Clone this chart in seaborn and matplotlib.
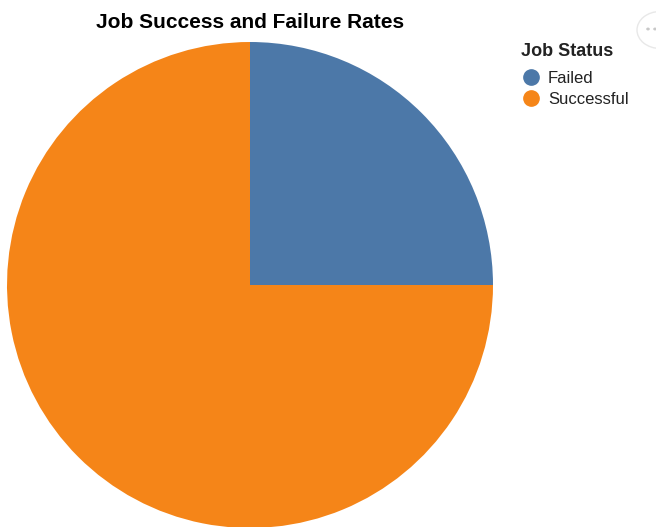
import matplotlib
matplotlib.use("Agg")
import matplotlib.pyplot as plt
import seaborn as sns
from matplotlib.lines import Line2D
from matplotlib.patches import Circle

# Data
statuses = ["Failed", "Successful"]
counts = [25, 75]
colors = ["#4c78a8", "#f58518"]

sns.set_theme(style="white")
plt.rcParams['font.family'] = ['Liberation Sans', 'DejaVu Sans']

W, H = 656, 527
fig = plt.figure(figsize=(W / 100, H / 100), dpi=100)

# pie axes: center (250, 285), radius 243 px
r = 243
cx, cy = 250, 285
ax = fig.add_axes([(cx - r) / W, (H - cy - r) / H, 2 * r / W, 2 * r / H])
ax.pie(counts, colors=colors, startangle=90, counterclock=False, radius=1,
       wedgeprops=dict(linewidth=0))
ax.set_xlim(-1, 1)
ax.set_ylim(-1, 1)
ax.set_aspect('equal')
ax.axis('off')

fig.text(250 / W, 1 - 22 / H, "Job Success and Failure Rates", ha='center', va='center',
         fontsize=15, fontweight='bold', color='black')

handles = [Line2D([0], [0], marker='o', linestyle='', markersize=11,
                  markerfacecolor=c, markeredgecolor=c) for c in colors]
leg = fig.legend(handles, statuses, title="Job Status", loc='upper left',
                 bbox_to_anchor=(518 / W, 1 - 40 / H), frameon=False,
                 fontsize=12, title_fontsize=13, handletextpad=0.5,
                 labelspacing=0.38, handlelength=1.1, borderaxespad=0,
                 borderpad=0.2)
leg.get_title().set_fontweight('bold')
leg.get_title().set_color('#222222')
for t in leg.get_texts():
    t.set_color('#222222')
leg._legend_box.align = "left"
leg._legend_box.sep = 7.5

# menu icon (partial circle at top right)
circ = Circle((660 / W, 1 - 30 / H), 23 / W, transform=fig.transFigure,
              facecolor='white', edgecolor='#e8e8e8', linewidth=1)
fig.patches.append(circ)
for dx in (648, 655):
    fig.patches.append(Circle((dx / W, 1 - 29 / H), 1.8 / W, transform=fig.transFigure,
                              facecolor='#c8c8c8', edgecolor='none'))

fig.savefig("out.png", dpi=100)
